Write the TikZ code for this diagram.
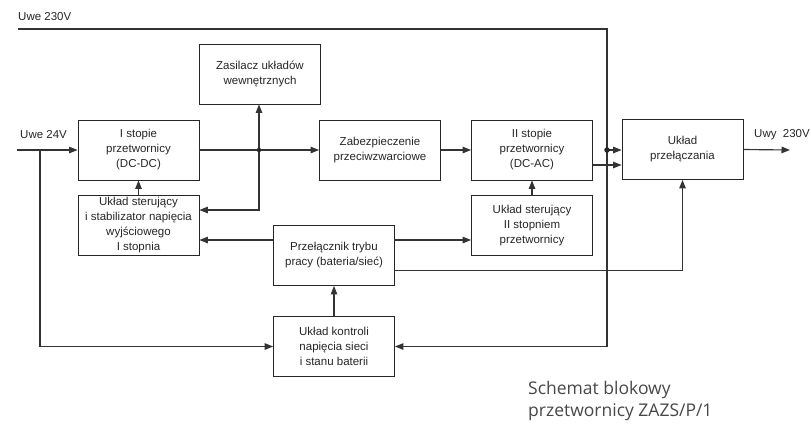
\documentclass[tikz,border=0pt]{standalone}
\usepackage{fontspec}
\setmainfont{Liberation Sans}
\newfontfamily\capfont{Open Sans}
\usetikzlibrary{arrows.meta,calc}
\begin{document}
\begin{tikzpicture}[x=1pt,y=-1pt,
  blk/.style={draw=black!85, line width=0.8pt, minimum width=121pt, minimum height=60pt, inner sep=0pt, align=center, font=\fontsize{11.5}{15}\selectfont, text=black!85},
  conn/.style={draw=black!80, line width=1.15pt},
  arr/.style={conn, -{Triangle[length=8.5pt,width=6.5pt]}},
  lbl/.style={font=\fontsize{11.5}{14}\selectfont, text=black!85, inner sep=0pt},
  jdot/.style={circle, fill=black!85, inner sep=0pt, minimum size=5.5pt}]
\useasboundingbox (0,0) rectangle (811,424);

% blocks
\node[blk] (zas) at (260,74) {Zasilacz układów\\wewnętrznych};
\node[blk] (st1) at (138.5,150) {I stopie\\przetwornicy\\(DC-DC)};
\node[blk] (ster1) at (138.5,225.5) {Układ sterujący\\i stabilizator napięcia\\wyjściowego\\I stopnia};
\node[blk] (zab) at (380,150) {Zabezpieczenie\\przeciwzwarciowe};
\node[blk] (st2) at (532,150) {II stopie\\przetwornicy\\(DC-AC)};
\node[blk] (ster2) at (532,225.5) {Układ sterujący\\II stopniem\\przetwornicy};
\node[blk] (prz) at (334,255.5) {Przełącznik trybu\\pracy (bateria/sieć)};
\node[blk] (uprz) at (682.5,149.5) {Układ\\przełączania};
\node[blk] (kon) at (334,346.5) {Układ kontroli\\napięcia sieci\\i stanu baterii};

% labels
\node[lbl, anchor=west] (l230) at (18,17) {Uwe 230V};
\node[lbl, anchor=west] (l24) at (20,135) {Uwe 24V};
\node[lbl, anchor=west] (lout) at (754,135) {Uwy\ \ 230V};
\node[anchor=north west, align=left, inner sep=0pt, text=black!72,
  font=\capfont\fontsize{17.5}{22}\selectfont] (cap) at (528,381) {Schemat blokowy\\przetwornicy ZAZS/P/1};

% coordinates
\coordinate (in24) at (17,150);
\coordinate (b24) at (40,150);
\coordinate (t0) at (18,29);
\coordinate (t1) at (607,29);
\coordinate (j2) at (607,150);
\coordinate (j1) at (259,150);
\coordinate (out) at (790,150);

% input 24V
\draw[arr] (in24) -- (st1.west);
\draw[arr] (b24) |- (kon.west);

% 230V input line
\draw[arr] (t0) -- (t1) |- (kon.east);
\draw[arr] (j2) -- (j2 -| uprz.west);
\node[jdot] (d2) at (j2) {};

% DC-DC output
\draw[arr] (st1.east) -- (zab.west);
\draw[arr] (j1) -- (j1 |- zas.south);
\draw[arr] (j1) |- ([yshift=15.5pt]ster1.east);
\node[jdot, minimum size=4.5pt] (d1) at (j1) {};

\draw[arr] (ster1.north) -- (st1.south);
\draw[arr] (zab.east) -- (st2.west);
\draw[arr] (ster2.north) -- (st2.south);
\draw[arr] ([yshift=-15pt]st2.east) -- ([yshift=-15pt]st2.east -| uprz.west);
\draw[arr] (uprz.east) -- (out);

% mode switch
\draw[arr] ([yshift=15.5pt]prz.west) -- ([yshift=15.5pt]prz.west -| ster1.east);
\draw[arr] ([yshift=15.5pt]prz.east) -- ([yshift=15.5pt]prz.east -| ster2.west);
\draw[arr] ([yshift=-15pt]prz.east) -| (uprz.south);
\draw[arr] (kon.north) -- (prz.south);
\end{tikzpicture}
\end{document}
